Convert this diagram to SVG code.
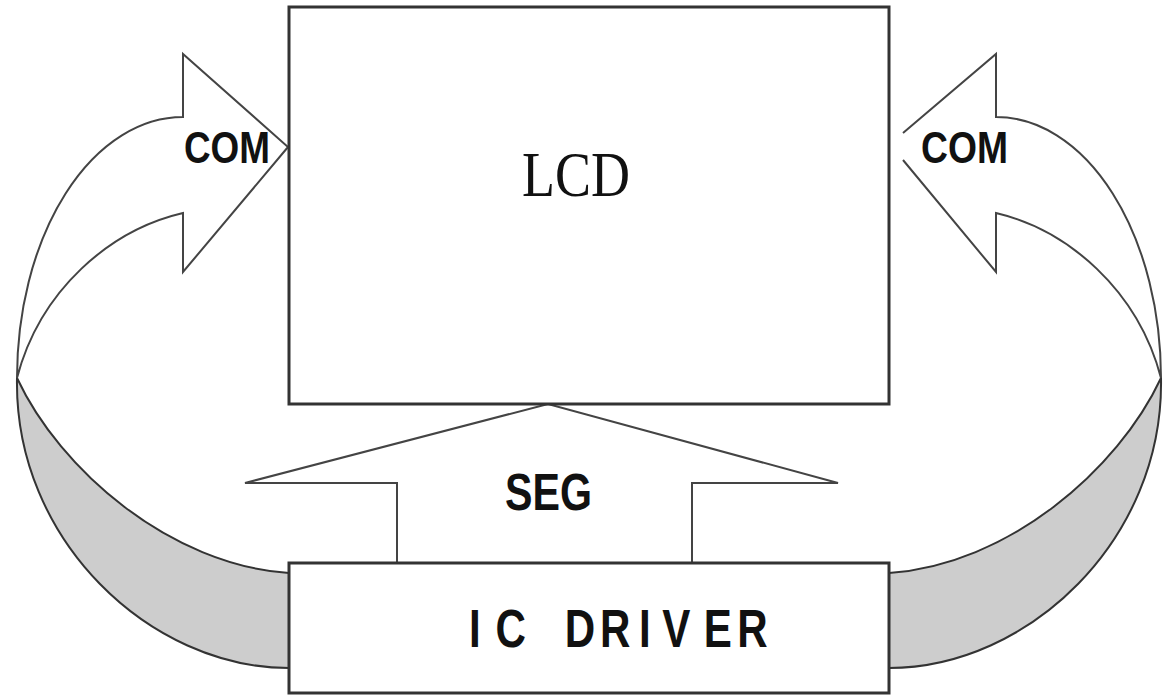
<svg xmlns="http://www.w3.org/2000/svg" width="1165" height="697" viewBox="0 0 1165 697">
<style>
.box{fill:#fff;stroke:#333;stroke-width:3}
.arr{fill:#fff;stroke:#444;stroke-width:2;stroke-linejoin:miter}
.open{fill:none;stroke:#444;stroke-width:2}
.band{fill:#cdcdcd;stroke:#333;stroke-width:2}
.lbl{font-family:"Liberation Sans",Arial,sans-serif;font-weight:bold;fill:#111}
.ser{font-family:"Liberation Serif","Times New Roman",serif;fill:#111}
</style>
<rect width="1165" height="697" fill="#fff"/>
<g id="connectors">
  <g id="com-left">
    <path class="band" d="M 17 378 C 14 540 150 668 289 668 L 289 573 C 170 565 60 470 17 378 Z"/>
    <path class="arr" d="M 183 117 L 183 54 L 288 147 L 183 272 L 183 213 C 110 230 40 290 17 378 A 166 261 0 0 1 183 117 Z"/>
  </g>
  <g id="com-right">
    <path class="band" d="M 1161 378 C 1164 540 1028 668 889 668 L 889 573 C 1008 565 1118 470 1161 378 Z"/>
    <path class="open" d="M 903 133 L 996 54 L 996 117 A 165 261 0 0 1 1161 378 C 1138 290 1068 230 996 213 L 996 272 L 903 160"/>
  </g>
  <g id="seg">
    <path class="arr" d="M 397 563 L 397 483 L 245 483 L 548 404 L 838 483 L 692 483 L 692 563"/>
  </g>
</g>
<g id="lcd">
  <rect class="box" x="289" y="7" width="600" height="397" fill="none"/>
  <text class="ser" x="522" y="196" font-size="64" textLength="108" lengthAdjust="spacingAndGlyphs">LCD</text>
</g>
<g id="ic-driver">
  <rect class="box" x="289" y="563" width="600" height="130"/>
  <text class="lbl" transform="translate(472,647) scale(0.78,1)" x="-4 30 75 119 164 214 244 297 340" y="0" font-size="54">IC DRIVER</text>
</g>
<g id="labels">
  <text class="lbl" x="184" y="163" font-size="45" textLength="86" lengthAdjust="spacingAndGlyphs">COM</text>
  <text class="lbl" x="921" y="163" font-size="45" textLength="87" lengthAdjust="spacingAndGlyphs">COM</text>
  <text class="lbl" x="505" y="510" font-size="51" textLength="87" lengthAdjust="spacingAndGlyphs">SEG</text>
</g>
</svg>
